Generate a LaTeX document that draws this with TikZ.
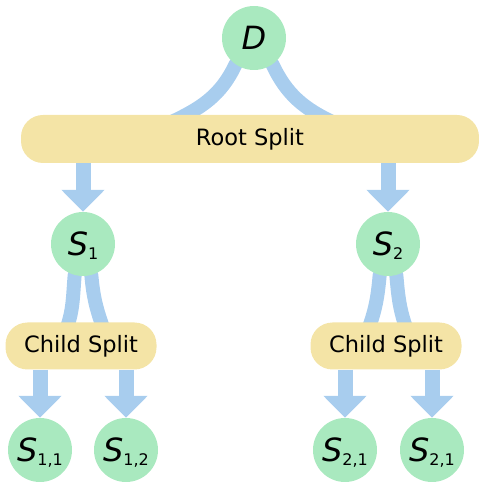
\documentclass[tikz,border=0pt]{standalone}
\usepackage{fontspec}
\setmainfont{DejaVu Sans}
\usetikzlibrary{arrows.meta,backgrounds}

\definecolor{stategreen}{RGB}{169,233,191}
\definecolor{splityellow}{RGB}{244,228,166}
\definecolor{flowblue}{RGB}{168,205,238}

\newcommand{\sname}[1]{{\fontsize{32}{32}\selectfont\itshape S}\smash{\raisebox{-4pt}{\fontsize{16}{16}\selectfont #1}}}

\begin{document}
\begin{tikzpicture}[x=1pt, y=1pt,
  state/.style = {circle, fill=stategreen, minimum size=64pt, inner sep=0pt},
  split/.style = {rounded corners=22pt, fill=splityellow, inner sep=0pt, font=\fontsize{22.5}{27}\selectfont},
  band/.style = {draw=flowblue, line width=14pt, line cap=round},
  flow/.style = {draw=flowblue, line width=15pt, -{Triangle[width=42pt,length=22pt]}}]

\useasboundingbox (0, 0) rectangle (479, 488);

\node[state] (D) at (254, 450) {{\fontsize{32}{32}\selectfont\itshape D}};

\node[split, minimum width=458pt, minimum height=48pt] (root) at (250, 349) {Root Split};

\node[state] (S1) at (83, 244) {\sname{1}};
\node[state] (S2) at (388, 244) {\sname{2}};

\node[split, minimum width=151pt, minimum height=47pt] (childL) at (81, 142) {Child Split};
\node[split, minimum width=151pt, minimum height=47pt] (childR) at (386, 142) {Child Split};

\node[state] (S11) at (40, 38) {\sname{1,1}};
\node[state] (S12) at (126, 38) {\sname{1,2}};
\node[state] (S21) at (345, 38) {\sname{2,1}};
\node[state] (S22) at (432, 38) {\sname{2,1}};

\begin{scope}[on background layer]
\draw[band] (D.-125) to[out=-115, in=25] ([xshift=-80pt, yshift=-8pt]root.north);
\draw[band] (D.-55) to[out=-65, in=155] ([xshift=84pt, yshift=-8pt]root.north);

\draw[flow] (root.south -| S1) -- (S1.north);
\draw[flow] (root.south -| S2) -- (S2.north);

\draw[band] (S1.-105) to[out=-95, in=70] ([xshift=-15pt, yshift=-8pt]childL.north);
\draw[band] (S1.-75) to[out=-85, in=110] ([xshift=23pt, yshift=-8pt]childL.north);
\draw[band] (S2.-105) to[out=-95, in=70] ([xshift=-18pt, yshift=-8pt]childR.north);
\draw[band] (S2.-75) to[out=-85, in=110] ([xshift=21pt, yshift=-8pt]childR.north);

\draw[flow] (childL.south -| S11) -- (S11.north);
\draw[flow] (childL.south -| S12) -- (S12.north);
\draw[flow] (childR.south -| S21) -- (S21.north);
\draw[flow] (childR.south -| S22) -- (S22.north);
\end{scope}

\end{tikzpicture}
\end{document}
